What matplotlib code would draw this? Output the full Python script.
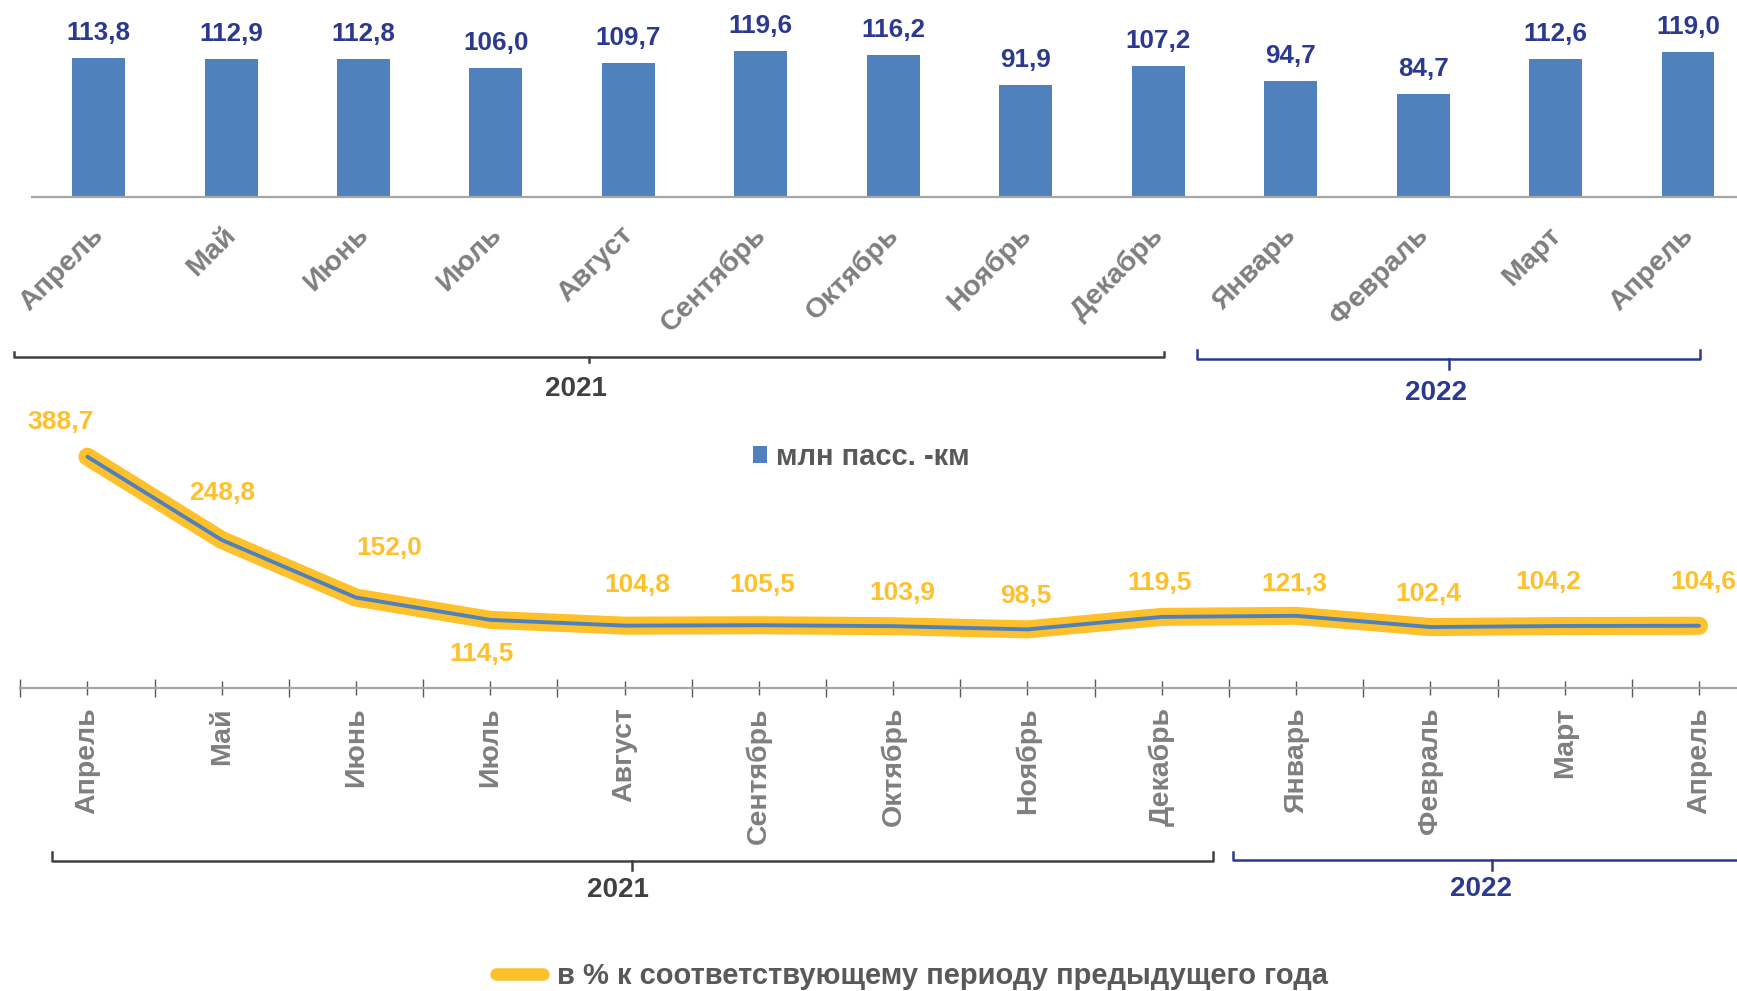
import numpy as np
import matplotlib
matplotlib.use("Agg")
import matplotlib.pyplot as plt
import matplotlib.transforms as mtransforms

plt.rcParams["font.family"] = ["Liberation Sans", "DejaVu Sans"]
plt.rcParams["font.weight"] = "bold"

months = ["Апрель", "Май", "Июнь", "Июль", "Август", "Сентябрь", "Октябрь",
          "Ноябрь", "Декабрь", "Январь", "Февраль", "Март", "Апрель"]
pass_km = [113.8, 112.9, 112.8, 106.0, 109.7, 119.6, 116.2, 91.9, 107.2, 94.7, 84.7, 112.6, 119.0]
pct_prev = [388.7, 248.8, 152.0, 114.5, 104.8, 105.5, 103.9, 98.5, 119.5, 121.3, 102.4, 104.2, 104.6]
bar_label = "млн пасс. -км"
line_label = "в % к соответствующему периоду предыдущего года"

# label nudges for the line values, in pixels (dx, dy)
lbl_dx = [-27, 0, 33, -9, 13, 3, 9, -2, -2, -2, -2, -16, 4]
lbl_dy = [35, 47, 50, -34, 41, 40, 33, 33, 34, 32, 33, 44, 44]

W, H = 1737, 991
BLUE = "#4F81BD"
NAVY = "#2B3990"
YELLOW = "#FFC12B"
GRAY = "#7F7F7F"
DARK = "#404040"

def fmt(v):
    return f"{v:.1f}".replace(".", ",")

fig = plt.figure(figsize=(W / 100, H / 100), dpi=100)
x = np.arange(len(months))

# ---- top: bars
ax1 = fig.add_axes([32.4 / W, 1 - 197 / H, 1 - 32.4 / W, 197 / H])
ax1.bar(x, pass_km, width=0.4, color=BLUE, label=bar_label, zorder=2)
ax1.set_xlim(-0.5, 12.37)
ax1.set_ylim(0, 161.3)
for s in ["top", "left", "right"]:
    ax1.spines[s].set_visible(False)
ax1.spines["bottom"].set_color("#A6A6A6")
ax1.spines["bottom"].set_linewidth(1.6)
ax1.set_yticks([])
ax1.set_xticks(x)
ax1.set_xticklabels(months, rotation=45, ha="right", va="top",
                    rotation_mode="anchor", fontsize=20.5, color=GRAY)
ax1.tick_params(axis="x", length=0, pad=18)
shift = mtransforms.ScaledTranslation(-8 / 100, 0, fig.dpi_scale_trans)
for t in ax1.get_xticklabels():
    t.set_transform(t.get_transform() + shift)
for xi, v in zip(x, pass_km):
    ax1.annotate(fmt(v), (xi, v), xytext=(0, 18), textcoords="offset pixels",
                 ha="center", va="baseline", fontsize=18.7, color=NAVY)

# ---- bottom: line
ax2 = fig.add_axes([20.25 / W, 1 - 688 / H, 1 - 20.25 / W, 308 / H])
ax2.patch.set_visible(False)
ax2.plot(x, pct_prev, color=YELLOW, lw=13, solid_capstyle="round",
         solid_joinstyle="round", label=line_label, zorder=2)
ax2.plot(x, pct_prev, color=BLUE, lw=2.8, solid_capstyle="round", zorder=3)
ax2.set_xlim(-0.5, 12.283)
ax2.set_ylim(0, 517.6)
for s in ["top", "left", "right"]:
    ax2.spines[s].set_visible(False)
ax2.spines["bottom"].set_color("#A6A6A6")
ax2.spines["bottom"].set_linewidth(1.6)
ax2.set_yticks([])
ax2.set_xticks(x)
ax2.set_xticks(np.arange(-0.5, 12.5, 1), minor=True)
ax2.set_xticklabels(months, rotation=90, fontsize=20.5, color=GRAY)
ax2.tick_params(axis="x", which="major", direction="inout", length=9.4,
                width=1, color="#595959", pad=9)
ax2.tick_params(axis="x", which="minor", direction="inout", length=13,
                width=1, color="#595959")
for xi, v, dx, dy in zip(x, pct_prev, lbl_dx, lbl_dy):
    ax2.annotate(fmt(v), (xi, v), xytext=(dx, dy), textcoords="offset pixels",
                 ha="center", va="center", fontsize=19, color=YELLOW,
                 annotation_clip=False)

fig.legend(*ax1.get_legend_handles_labels(), loc="center",
           bbox_to_anchor=(861 / W, 1 - 457 / H),
           frameon=False, handlelength=0.5, handleheight=0.5,
           handletextpad=0.3, borderpad=0,
           prop={"size": 21, "weight": "bold"}, labelcolor="#595959")
leg2 = fig.legend(*ax2.get_legend_handles_labels(), loc="center",
                  bbox_to_anchor=(912 / W, 1 - 976 / H),
                  frameon=False, handlelength=1.6, handletextpad=0.5, borderpad=0,
                  prop={"size": 21, "weight": "bold"}, labelcolor="#595959")
for h in leg2.get_lines():
    h.set_linewidth(9)

# ---- year brackets
def bracket(ax, x0, x1, xc, y_px, up, down, color, text, tx, ty_px):
    tr = mtransforms.blended_transform_factory(ax.transData, fig.transFigure)
    y = 1 - y_px / H
    ax.plot([x0, x0, x1, x1], [y + up / H, y, y, y + up / H], transform=tr,
            color=color, lw=1.8, clip_on=False)
    ax.plot([xc, xc], [y, y - down / H], transform=tr, color=color, lw=1.8,
            clip_on=False)
    ax.text(tx, 1 - ty_px / H, text, transform=tr, ha="center", va="center",
            fontsize=20, color=color)

bracket(ax1, -0.639, 8.044, 3.703, 357, 5, 5, DARK, "2021", 3.605, 389)
bracket(ax1, 8.293, 12.09, 10.195, 359, 9, 10, NAVY, "2022", 10.097, 393)
bracket(ax2, -0.264, 8.38, 4.055, 861, 9, 9, DARK, "2021", 3.95, 890)
bracket(ax2, 8.53, 13.0, 10.46, 860, 8, 10, NAVY, "2022", 10.38, 889)

fig.savefig("out.png", dpi=100)
